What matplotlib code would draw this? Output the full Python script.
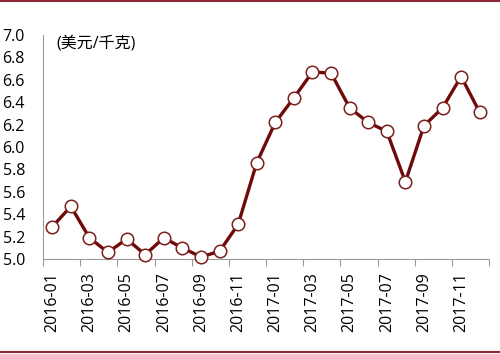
import matplotlib.pyplot as plt
from matplotlib.lines import Line2D

plt.rcParams['font.family'] = ['Open Sans', 'Noto Sans CJK SC', 'DejaVu Sans']

# monthly price data
months = ['2016-01', '2016-02', '2016-03', '2016-04', '2016-05', '2016-06',
          '2016-07', '2016-08', '2016-09', '2016-10', '2016-11', '2016-12',
          '2017-01', '2017-02', '2017-03', '2017-04', '2017-05', '2017-06',
          '2017-07', '2017-08', '2017-09', '2017-10', '2017-11', '2017-12']
price = [5.29, 5.47, 5.19, 5.06, 5.18, 5.04, 5.19, 5.10, 5.02, 5.07, 5.31, 5.86,
         6.22, 6.44, 6.67, 6.66, 6.35, 6.22, 6.14, 5.69, 6.19, 6.35, 6.63, 6.31]
yticks = [5.0, 5.2, 5.4, 5.6, 5.8, 6.0, 6.2, 6.4, 6.6, 6.8, 7.0]
unit = '(美元/千克)'

fig = plt.figure(figsize=(5, 3.54), dpi=100)
ax = fig.add_axes([0.086, 0.268, 0.892, 0.633])

x = list(range(len(months)))
ax.plot(x, price, color='#6E0A0A', lw=2.4, marker='o', ms=9,
        mfc='white', mec='#7A1E1E', mew=1.1, zorder=3, clip_on=False)

ax.set_xlim(-0.5, len(months) - 0.5)
ax.set_ylim(5.0, 7.0)
ax.set_yticks(yticks)
ax.set_yticklabels(['%.1f' % v for v in yticks], fontsize=11.5)
ax.tick_params(axis='y', length=0, pad=13)

# tick marks on category borders, labels on every other month
ax.set_xticks([i - 0.5 for i in range(0, len(months) + 1, 2)])
ax.set_xticklabels([])
ax.tick_params(axis='x', which='major', length=5, color='#9a9a9a', direction='out')
ax.set_xticks(x[::2], minor=True)
ax.set_xticklabels(months[::2], minor=True, rotation=90, fontsize=11.5)
ax.tick_params(axis='x', which='minor', length=0, pad=9)

for s in ['top', 'right']:
    ax.spines[s].set_visible(False)
ax.spines['left'].set_color('#9a9a9a')
ax.spines['bottom'].set_color('#9a9a9a')

ax.text(0.03, 1.0, unit, transform=ax.transAxes, fontsize=11.5,
        va='top', ha='left')

# maroon frame lines at top and bottom
fig.add_artist(Line2D([0, 1], [0.997, 0.997], color='#8B2A35', lw=1.5))
fig.add_artist(Line2D([0, 1], [0.006, 0.006], color='#8B2A35', lw=1.5))

fig.savefig('out.png', dpi=100)
